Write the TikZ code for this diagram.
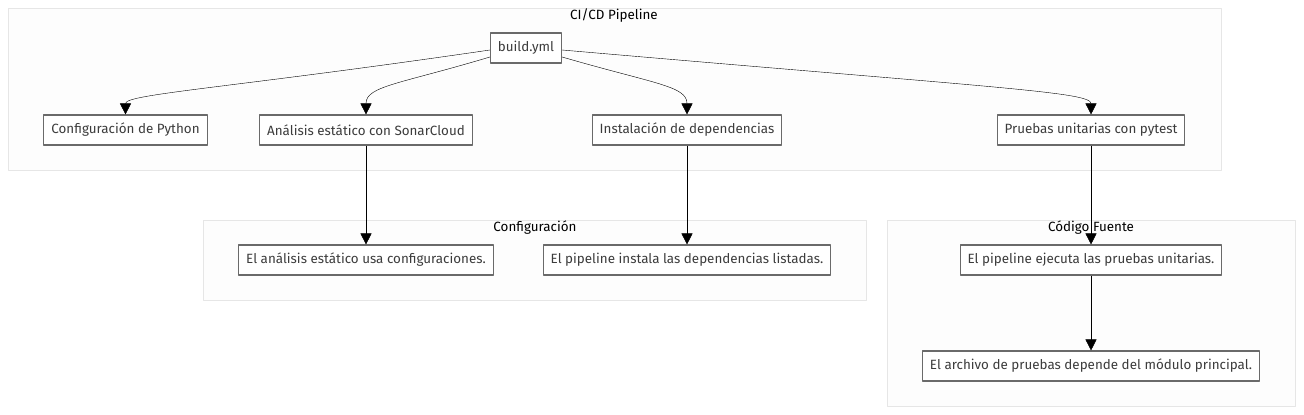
\documentclass[tikz,border=0pt]{standalone}
\usepackage{fontspec}
\setmainfont{Fira Sans}
\usetikzlibrary{arrows.meta}
\definecolor{texto}{HTML}{3C3C3C}
\definecolor{borde}{HTML}{6A6A6A}
\definecolor{grupofondo}{HTML}{FDFDFD}
\definecolor{grupoborde}{HTML}{E6E6E6}
\begin{document}
\begin{tikzpicture}[x=1pt,y=1pt,>={Triangle[length=11pt,width=11pt]},font=\fontsize{13.4}{15}\selectfont,line join=round]
	\tikzset{caja/.style={draw=borde,line width=1.1pt,fill=white,text=texto,inner xsep=7.5pt,inner ysep=0pt,minimum height=30pt},
		grupo/.style={draw=grupoborde,fill=grupofondo},
		titulo/.style={text=black,inner sep=1pt},
		flecha/.style={->,black,thin}}
	\useasboundingbox (0,0) rectangle (1304,-415);
	%%%% Grupos
	\draw[grupo] (8,-8) rectangle (1221,-170);
	\draw[grupo] (203,-220) rectangle (866,-300);
	\draw[grupo] (887,-220) rectangle (1295,-406);
	\node[titulo] (tci) at (614,-16) {CI/CD Pipeline};
	\node[titulo] (tconf) at (535,-228) {Configuración};
	\node[titulo] (tcod) at (1091,-228) {Código Fuente};
	%%%% Nodos
	\node[caja] (yml) at (526,-48) {build.yml};
	\node[caja] (py) at (125.5,-130) {Configuración de Python};
	\node[caja] (sonar) at (366,-130) {Análisis estático con SonarCloud};
	\node[caja] (deps) at (687,-130) {Instalación de dependencias};
	\node[caja] (pytest) at (1091,-130) {Pruebas unitarias con pytest};
	\node[caja] (usaconf) at (366,-260) {El análisis estático usa configuraciones.};
	\node[caja] (instala) at (687,-260) {El pipeline instala las dependencias listadas.};
	\node[caja] (ejecuta) at (1091,-260) {El pipeline ejecuta las pruebas unitarias.};
	\node[caja] (archivo) at (1091,-366) {El archivo de pruebas depende del módulo principal.};
	%%%% Conexiones
	\draw[flecha] ([yshift=-2pt]yml.west) .. controls (230,-88) and (125.5,-94) .. (py.north);
	\draw[flecha] ([yshift=-9pt]yml.west) .. controls (400,-84) and (366,-86) .. (sonar.north);
	\draw[flecha] ([yshift=-9pt]yml.east) .. controls (655,-84) and (687,-86) .. (deps.north);
	\draw[flecha] ([yshift=-2pt]yml.east) .. controls (1000,-88) and (1091,-92) .. (pytest.north);
	\draw[flecha] (sonar) -- (usaconf);
	\draw[flecha] (deps) -- (instala);
	\draw[flecha] (pytest) -- (ejecuta);
	\draw[flecha] (ejecuta) -- (archivo);
\end{tikzpicture}
\end{document}
